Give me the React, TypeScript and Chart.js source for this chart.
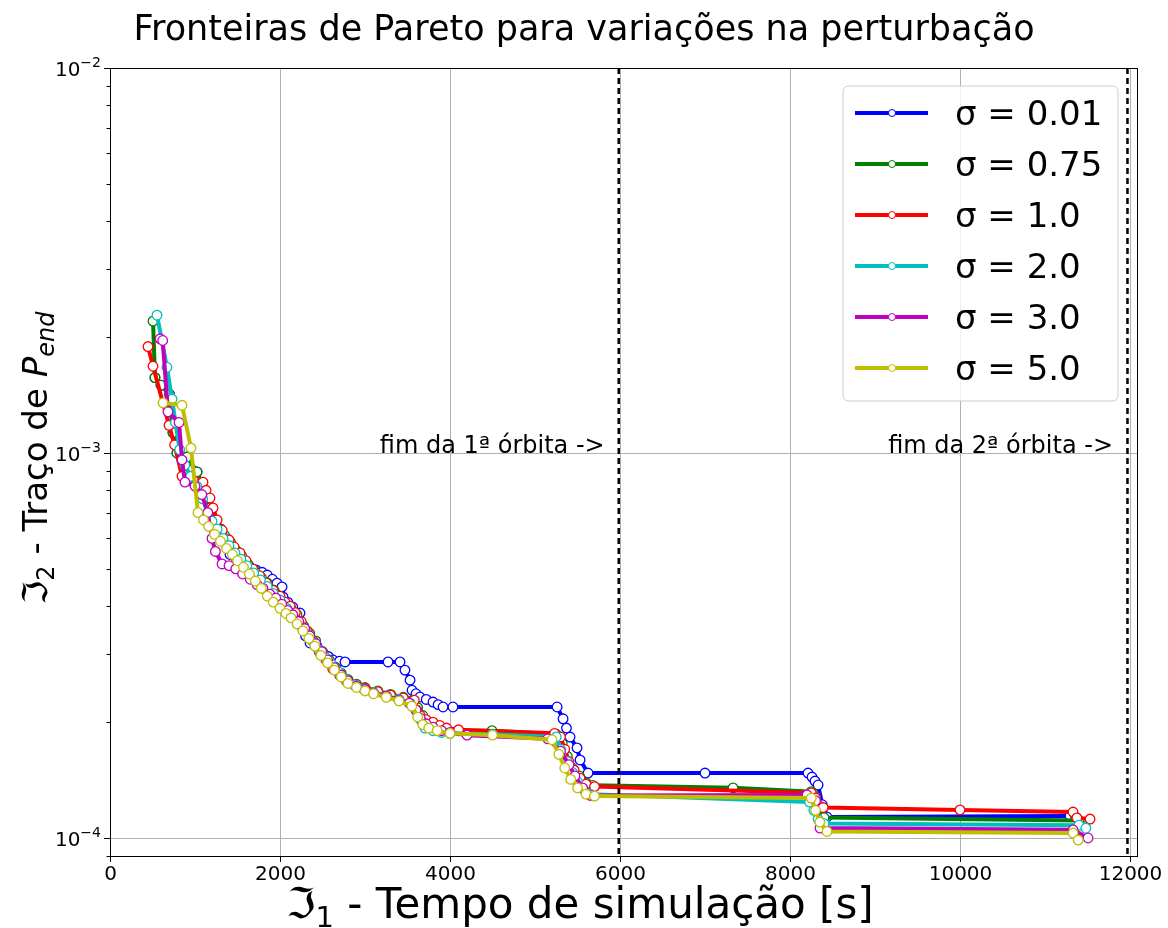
import React, { useEffect, useRef } from "react";
import { Chart, registerables } from "chart.js";

Chart.register(...registerables);

const TITLE = "Fronteiras de Pareto para variações na perturbação";
const SERIES_LABELS = ["σ = 0.01", "σ = 0.75", "σ = 1.0", "σ = 2.0", "σ = 3.0", "σ = 5.0"];
const SERIES_COLORS = ["#0000ff", "#008000", "#ff0000", "#00bfbf", "#bf00bf", "#bfbf00"];
const X_TICKS = [0, 2000, 4000, 6000, 8000, 10000, 12000];
const Y_MAJOR = [1e-4, 1e-3, 1e-2];
const Y_MAJOR_EXP = ["−4", "−3", "−2"];
const X_MIN = 0;
const X_MAX = 12082;
const Y_MIN = 8.98e-5;
const Y_MAX = 1e-2;
const ORBIT_ENDS = [5985, 11970];
const ORBIT_TEXTS = ["fim da 1ª órbita ->", "fim da 2ª órbita ->"];
const ORBIT_TEXT_X = [5820, 11800];
const ORBIT_TEXT_Y = 1e-3;

const SIGMA_001: [number, number][] = [
  [529, 1.57e-3], [600, 1.50e-3], [700, 1.42e-3], [741, 1.13e-3], [788, 1.00e-3],
  [906, 0.976e-3], [1024, 0.893e-3], [1070, 0.84e-3], [1120, 0.78e-3], [1180, 0.72e-3],
  [1240, 0.67e-3], [1300, 0.635e-3], [1412, 0.545e-3], [1490, 0.53e-3], [1565, 0.518e-3],
  [1640, 0.508e-3], [1718, 0.497e-3], [1790, 0.49e-3], [1850, 0.482e-3], [1910, 0.47e-3],
  [1965, 0.459e-3], [2024, 0.449e-3], [2035, 0.423e-3], [2090, 0.41e-3], [2150, 0.398e-3],
  [2235, 0.384e-3], [2240, 0.357e-3], [2300, 0.335e-3], [2353, 0.321e-3], [2435, 0.315e-3],
  [2506, 0.302e-3], [2570, 0.296e-3], [2624, 0.290e-3], [2700, 0.288e-3], [2765, 0.2866e-3],
  [3271, 0.2866e-3], [3412, 0.2866e-3], [3470, 0.273e-3], [3530, 0.257e-3], [3553, 0.242e-3],
  [3600, 0.237e-3], [3647, 0.2324e-3], [3720, 0.229e-3], [3800, 0.2255e-3], [3860, 0.222e-3],
  [3918, 0.2189e-3], [4035, 0.2189e-3], [5260, 0.2189e-3], [5330, 0.204e-3], [5370, 0.193e-3],
  [5412, 0.1829e-3], [5494, 0.1714e-3], [5530, 0.1595e-3], [5624, 0.1475e-3], [7000, 0.1475e-3],
  [8212, 0.1475e-3], [8259, 0.144e-3], [8294, 0.1406e-3], [8330, 0.1373e-3], [8380, 0.122e-3],
  [8435, 0.1134e-3], [11294, 0.1141e-3], [11360, 0.1134e-3],
];

const SIGMA_075: [number, number][] = [
  [506, 2.20e-3], [529, 1.57e-3], [600, 1.50e-3], [700, 1.42e-3], [741, 1.13e-3],
  [788, 1.00e-3], [906, 0.976e-3], [1024, 0.893e-3], [1070, 0.84e-3], [1120, 0.78e-3],
  [1180, 0.72e-3], [1240, 0.67e-3], [1300, 0.635e-3], [1350, 0.61e-3], [1420, 0.585e-3],
  [1480, 0.56e-3], [1550, 0.54e-3], [1620, 0.515e-3], [1700, 0.495e-3], [1780, 0.475e-3],
  [1850, 0.46e-3], [1930, 0.44e-3], [2000, 0.42e-3], [2070, 0.405e-3], [2130, 0.395e-3],
  [2200, 0.38e-3], [2280, 0.355e-3], [2350, 0.34e-3], [2420, 0.325e-3], [2500, 0.305e-3],
  [2580, 0.29e-3], [2650, 0.278e-3], [2720, 0.268e-3], [2800, 0.258e-3], [2900, 0.251e-3],
  [3000, 0.246e-3], [3150, 0.241e-3], [3300, 0.236e-3], [3450, 0.232e-3], [3560, 0.228e-3],
  [3620, 0.218e-3], [3680, 0.208e-3], [3750, 0.200e-3], [3850, 0.195e-3], [3950, 0.192e-3],
  [4100, 0.190e-3], [4494, 0.190e-3], [5250, 0.186e-3], [5320, 0.176e-3], [5380, 0.163e-3],
  [5440, 0.152e-3], [5520, 0.145e-3], [5600, 0.139e-3], [5680, 0.137e-3], [7330, 0.135e-3],
  [8250, 0.132e-3], [8300, 0.128e-3], [8330, 0.120e-3], [8400, 0.113e-3], [11400, 0.111e-3],
  [11470, 0.107e-3],
];

const SIGMA_10: [number, number][] = [
  [447, 1.89e-3], [506, 1.68e-3], [694, 1.18e-3], [760, 1.05e-3], [847, 0.87e-3],
  [980, 0.85e-3], [1094, 0.84e-3], [1130, 0.80e-3], [1176, 0.764e-3], [1212, 0.72e-3],
  [1260, 0.67e-3], [1320, 0.63e-3], [1400, 0.595e-3], [1460, 0.57e-3], [1530, 0.55e-3],
  [1600, 0.525e-3], [1680, 0.50e-3], [1760, 0.48e-3], [1840, 0.46e-3], [1920, 0.44e-3],
  [2000, 0.425e-3], [2060, 0.41e-3], [2120, 0.40e-3], [2180, 0.385e-3], [2250, 0.365e-3],
  [2320, 0.345e-3], [2390, 0.325e-3], [2460, 0.305e-3], [2540, 0.29e-3], [2620, 0.275e-3],
  [2700, 0.265e-3], [2780, 0.256e-3], [2880, 0.250e-3], [3000, 0.245e-3], [3150, 0.240e-3],
  [3300, 0.235e-3], [3450, 0.231e-3], [3580, 0.228e-3], [3610, 0.215e-3], [3650, 0.208e-3],
  [3720, 0.203e-3], [3800, 0.200e-3], [3880, 0.196e-3], [3960, 0.193e-3], [4100, 0.191e-3],
  [5230, 0.187e-3], [5300, 0.183e-3], [5350, 0.170e-3], [5400, 0.158e-3], [5460, 0.150e-3],
  [5530, 0.143e-3], [5600, 0.138e-3], [5700, 0.136e-3], [8250, 0.131e-3], [8300, 0.127e-3],
  [8350, 0.121e-3], [8390, 0.120e-3], [10000, 0.1183e-3], [11330, 0.1168e-3], [11375, 0.1128e-3],
  [11530, 0.112e-3],
];

const SIGMA_20: [number, number][] = [
  [553, 2.28e-3], [670, 1.67e-3], [730, 1.38e-3], [770, 1.20e-3], [820, 1.02e-3],
  [880, 0.93e-3], [950, 0.87e-3], [1020, 0.82e-3], [1090, 0.76e-3], [1150, 0.70e-3],
  [1200, 0.665e-3], [1260, 0.635e-3], [1330, 0.60e-3], [1400, 0.575e-3], [1470, 0.55e-3],
  [1540, 0.53e-3], [1610, 0.51e-3], [1690, 0.488e-3], [1770, 0.468e-3], [1850, 0.45e-3],
  [1920, 0.432e-3], [2000, 0.415e-3], [2080, 0.395e-3], [2150, 0.38e-3], [2230, 0.36e-3],
  [2300, 0.345e-3], [2380, 0.325e-3], [2450, 0.31e-3], [2530, 0.295e-3], [2610, 0.282e-3],
  [2690, 0.27e-3], [2780, 0.258e-3], [2870, 0.25e-3], [2980, 0.244e-3], [3100, 0.239e-3],
  [3250, 0.234e-3], [3400, 0.229e-3], [3530, 0.224e-3], [3600, 0.214e-3], [3660, 0.202e-3],
  [3706, 0.193e-3], [3800, 0.190e-3], [3900, 0.188e-3], [4000, 0.187e-3], [4500, 0.186e-3],
  [5250, 0.183e-3], [5300, 0.170e-3], [5380, 0.158e-3], [5440, 0.148e-3], [5500, 0.140e-3],
  [5570, 0.134e-3], [5650, 0.130e-3], [8230, 0.124e-3], [8280, 0.118e-3], [8330, 0.112e-3],
  [8400, 0.109e-3], [11400, 0.108e-3], [11480, 0.106e-3],
];

const SIGMA_30: [number, number][] = [
  [590, 1.98e-3], [620, 1.96e-3], [682, 1.28e-3], [812, 1.20e-3], [847, 0.96e-3],
  [882, 0.84e-3], [1000, 0.82e-3], [1080, 0.78e-3], [1150, 0.70e-3], [1200, 0.60e-3],
  [1240, 0.555e-3], [1318, 0.515e-3], [1400, 0.51e-3], [1480, 0.50e-3], [1560, 0.485e-3],
  [1650, 0.47e-3], [1730, 0.455e-3], [1800, 0.445e-3], [1880, 0.43e-3], [1950, 0.42e-3],
  [2020, 0.405e-3], [2090, 0.39e-3], [2150, 0.38e-3], [2220, 0.365e-3], [2290, 0.35e-3],
  [2350, 0.335e-3], [2420, 0.32e-3], [2490, 0.305e-3], [2560, 0.29e-3], [2640, 0.277e-3],
  [2720, 0.265e-3], [2800, 0.256e-3], [2900, 0.248e-3], [3000, 0.243e-3], [3100, 0.238e-3],
  [3250, 0.234e-3], [3400, 0.228e-3], [3520, 0.224e-3], [3600, 0.215e-3], [3650, 0.205e-3],
  [3720, 0.198e-3], [3800, 0.194e-3], [3900, 0.190e-3], [4000, 0.188e-3], [4200, 0.185e-3],
  [5150, 0.181e-3], [5300, 0.168e-3], [5400, 0.155e-3], [5470, 0.145e-3], [5560, 0.135e-3],
  [5650, 0.129e-3], [8200, 0.1294e-3], [8300, 0.125e-3], [8353, 0.1061e-3], [11330, 0.105e-3],
  [11506, 0.100e-3],
];

const SIGMA_50: [number, number][] = [
  [624, 1.35e-3], [847, 1.33e-3], [953, 1.03e-3], [1035, 0.70e-3], [1100, 0.67e-3],
  [1160, 0.645e-3], [1230, 0.615e-3], [1300, 0.59e-3], [1370, 0.565e-3], [1440, 0.545e-3],
  [1500, 0.525e-3], [1570, 0.505e-3], [1640, 0.485e-3], [1710, 0.465e-3], [1780, 0.445e-3],
  [1850, 0.425e-3], [1920, 0.41e-3], [2000, 0.395e-3], [2070, 0.383e-3], [2130, 0.373e-3],
  [2200, 0.36e-3], [2270, 0.345e-3], [2340, 0.33e-3], [2410, 0.315e-3], [2480, 0.298e-3],
  [2560, 0.285e-3], [2640, 0.273e-3], [2720, 0.262e-3], [2800, 0.252e-3], [2900, 0.246e-3],
  [3000, 0.241e-3], [3100, 0.237e-3], [3250, 0.232e-3], [3400, 0.227e-3], [3550, 0.220e-3],
  [3620, 0.206e-3], [3680, 0.197e-3], [3750, 0.193e-3], [3850, 0.190e-3], [4000, 0.187e-3],
  [4500, 0.185e-3], [5200, 0.180e-3], [5280, 0.165e-3], [5350, 0.152e-3], [5420, 0.142e-3],
  [5500, 0.135e-3], [5600, 0.130e-3], [5700, 0.1285e-3], [8250, 0.127e-3], [8300, 0.118e-3],
  [8350, 0.110e-3], [8435, 0.104e-3], [11330, 0.103e-3], [11390, 0.0988e-3],
];

const SERIES_DATA = [SIGMA_001, SIGMA_075, SIGMA_10, SIGMA_20, SIGMA_30, SIGMA_50];

const FONT = "'DejaVu Sans', 'Liberation Sans', sans-serif";

type Part = { text: string; size: number; italic?: boolean; dy?: number };

function drawParts(ctx: CanvasRenderingContext2D, parts: Part[], cx: number, baseY: number, rotate: boolean) {
  ctx.save();
  ctx.translate(cx, baseY);
  if (rotate) ctx.rotate(-Math.PI / 2);
  ctx.textBaseline = "alphabetic";
  ctx.textAlign = "left";
  const widths = parts.map((p) => {
    ctx.font = `${p.italic ? "italic " : ""}${p.size}px ${FONT}`;
    return ctx.measureText(p.text).width;
  });
  const total = widths.reduce((a, b) => a + b, 0);
  let x = -total / 2;
  parts.forEach((p, i) => {
    ctx.font = `${p.italic ? "italic " : ""}${p.size}px ${FONT}`;
    ctx.fillText(p.text, x, p.dy || 0);
    x += widths[i];
  });
  ctx.restore();
}

const overlayPlugin = {
  id: "overlay",
  beforeDatasetsDraw(chart: any) {
    const { ctx, chartArea: a, scales } = chart;
    const xs = scales.x;
    const ys = scales.y;
    ctx.save();
    ctx.strokeStyle = "#b0b0b0";
    ctx.lineWidth = 1;
    for (const v of X_TICKS) {
      if (v <= X_MIN || v >= X_MAX) continue;
      const px = Math.round(xs.getPixelForValue(v)) + 0.5;
      ctx.beginPath();
      ctx.moveTo(px, a.top);
      ctx.lineTo(px, a.bottom);
      ctx.stroke();
    }
    for (const v of Y_MAJOR) {
      if (v <= Y_MIN || v >= Y_MAX) continue;
      const py = Math.round(ys.getPixelForValue(v)) + 0.5;
      ctx.beginPath();
      ctx.moveTo(a.left, py);
      ctx.lineTo(a.right, py);
      ctx.stroke();
    }
    ctx.restore();
  },
  afterDatasetsDraw(chart: any) {
    const { ctx, chartArea: a, scales } = chart;
    const xs = scales.x;
    const ys = scales.y;
    ctx.save();

    ctx.strokeStyle = "#000000";
    ctx.lineWidth = 2.5;
    ctx.setLineDash([6, 4]);
    for (const v of ORBIT_ENDS) {
      const px = xs.getPixelForValue(v);
      ctx.beginPath();
      ctx.moveTo(px, a.top);
      ctx.lineTo(px, a.bottom);
      ctx.stroke();
    }
    ctx.setLineDash([]);

    ctx.fillStyle = "#000000";
    ctx.font = `24px ${FONT}`;
    ctx.textAlign = "right";
    ctx.textBaseline = "alphabetic";
    ORBIT_TEXTS.forEach((t, i) => {
      ctx.fillText(t, xs.getPixelForValue(ORBIT_TEXT_X[i]), ys.getPixelForValue(ORBIT_TEXT_Y));
    });

    ctx.strokeStyle = "#000000";
    ctx.lineWidth = 1;
    ctx.strokeRect(Math.round(a.left) + 0.5, Math.round(a.top) + 0.5, Math.round(a.right - a.left), Math.round(a.bottom - a.top));

    ctx.font = `20px ${FONT}`;
    ctx.textAlign = "center";
    ctx.textBaseline = "top";
    for (const v of X_TICKS) {
      const px = Math.round(xs.getPixelForValue(v)) + 0.5;
      ctx.beginPath();
      ctx.moveTo(px, a.bottom);
      ctx.lineTo(px, a.bottom + 6);
      ctx.stroke();
      ctx.fillText(String(v), px, a.bottom + 9);
    }

    for (let e = -5; e <= -2; e++) {
      for (let m = 1; m <= 9; m++) {
        const v = m * Math.pow(10, e);
        if (v < Y_MIN * 0.999 || v > Y_MAX * 1.001) continue;
        const py = Math.round(ys.getPixelForValue(v)) + 0.5;
        const len = m === 1 ? 6 : 3.5;
        ctx.beginPath();
        ctx.moveTo(a.left, py);
        ctx.lineTo(a.left - len, py);
        ctx.stroke();
      }
    }
    Y_MAJOR.forEach((v, i) => {
      const py = ys.getPixelForValue(v);
      const right = a.left - 9;
      ctx.textAlign = "right";
      ctx.textBaseline = "alphabetic";
      ctx.font = `14px ${FONT}`;
      const sup = Y_MAJOR_EXP[i];
      const sw = ctx.measureText(sup).width;
      ctx.fillText(sup, right, py - 1);
      ctx.font = `20px ${FONT}`;
      ctx.fillText("10", right - sw, py + 8);
    });

    ctx.font = `35px ${FONT}`;
    ctx.textAlign = "center";
    ctx.textBaseline = "alphabetic";
    ctx.fillText(TITLE, 584, 40);

    drawParts(ctx, [
      { text: "ℑ", size: 42 },
      { text: "1", size: 29, dy: 9 },
      { text: " - Tempo de simulação [s]", size: 42 },
    ], 580, 918, false);
    drawParts(ctx, [
      { text: "ℑ", size: 34 },
      { text: "2", size: 24, dy: 7 },
      { text: " - Traço de ", size: 34 },
      { text: "P", size: 34, italic: true },
      { text: "end", size: 24, italic: true, dy: 7 },
    ], 47, 458, true);

    const lx = 843, ly = 86, lw = 275, lh = 315, r = 6;
    ctx.beginPath();
    ctx.moveTo(lx + r, ly);
    ctx.lineTo(lx + lw - r, ly);
    ctx.quadraticCurveTo(lx + lw, ly, lx + lw, ly + r);
    ctx.lineTo(lx + lw, ly + lh - r);
    ctx.quadraticCurveTo(lx + lw, ly + lh, lx + lw - r, ly + lh);
    ctx.lineTo(lx + r, ly + lh);
    ctx.quadraticCurveTo(lx, ly + lh, lx, ly + lh - r);
    ctx.lineTo(lx, ly + r);
    ctx.quadraticCurveTo(lx, ly, lx + r, ly);
    ctx.closePath();
    ctx.fillStyle = "rgba(255,255,255,0.8)";
    ctx.fill();
    ctx.strokeStyle = "#cccccc";
    ctx.lineWidth = 1;
    ctx.stroke();
    SERIES_LABELS.forEach((lab, i) => {
      const y = 113 + i * 51;
      ctx.strokeStyle = SERIES_COLORS[i];
      ctx.lineWidth = 4;
      ctx.beginPath();
      ctx.moveTo(855, y);
      ctx.lineTo(928, y);
      ctx.stroke();
      ctx.beginPath();
      ctx.arc(892, y, 3.5, 0, Math.PI * 2);
      ctx.fillStyle = "#ffffff";
      ctx.fill();
      ctx.lineWidth = 1;
      ctx.stroke();
      ctx.fillStyle = "#000000";
      ctx.font = `34px ${FONT}`;
      ctx.textAlign = "left";
      ctx.textBaseline = "alphabetic";
      ctx.fillText(lab, 955, y + 12);
    });

    ctx.restore();
  },
};

export default function App() {
  const ref = useRef<HTMLCanvasElement>(null);
  useEffect(() => {
    document.body.style.margin = "0";
    document.body.style.overflow = "hidden";
    const canvas = ref.current!;
    const chart = new Chart(canvas, {
      type: "line",
      data: {
        datasets: SERIES_DATA.map((pts, i) => ({
          label: SERIES_LABELS[i],
          data: pts.map(([x, y]) => ({ x, y })),
          borderColor: SERIES_COLORS[i],
          backgroundColor: SERIES_COLORS[i],
          borderWidth: 4,
          pointRadius: 4.8,
          pointHoverRadius: 4.8,
          pointBorderWidth: 1.3,
          pointBorderColor: SERIES_COLORS[i],
          pointBackgroundColor: "#ffffff",
          fill: false,
          tension: 0,
          order: SERIES_DATA.length - i,
        })),
      },
      options: {
        responsive: false,
        animation: false,
        devicePixelRatio: 1,
        layout: { padding: { left: 0, right: 31, top: 68, bottom: 0 } },
        plugins: {
          legend: { display: false },
          tooltip: { enabled: false },
          title: { display: false },
        },
        events: [],
        scales: {
          x: {
            type: "linear",
            min: X_MIN,
            max: X_MAX,
            grid: { display: false },
            border: { display: false },
            ticks: { display: false },
            afterFit: (s: any) => { s.height = 72; },
          },
          y: {
            type: "logarithmic",
            min: Y_MIN,
            max: Y_MAX,
            grid: { display: false },
            border: { display: false },
            ticks: { display: false },
            afterFit: (s: any) => { s.width = 110; },
          },
        },
      } as any,
      plugins: [overlayPlugin],
    });
    return () => chart.destroy();
  }, []);
  return (
    <div style={{ width: 1168, height: 928, background: "#ffffff" }}>
      <canvas ref={ref} width={1168} height={928} style={{ display: "block" }} />
    </div>
  );
}
